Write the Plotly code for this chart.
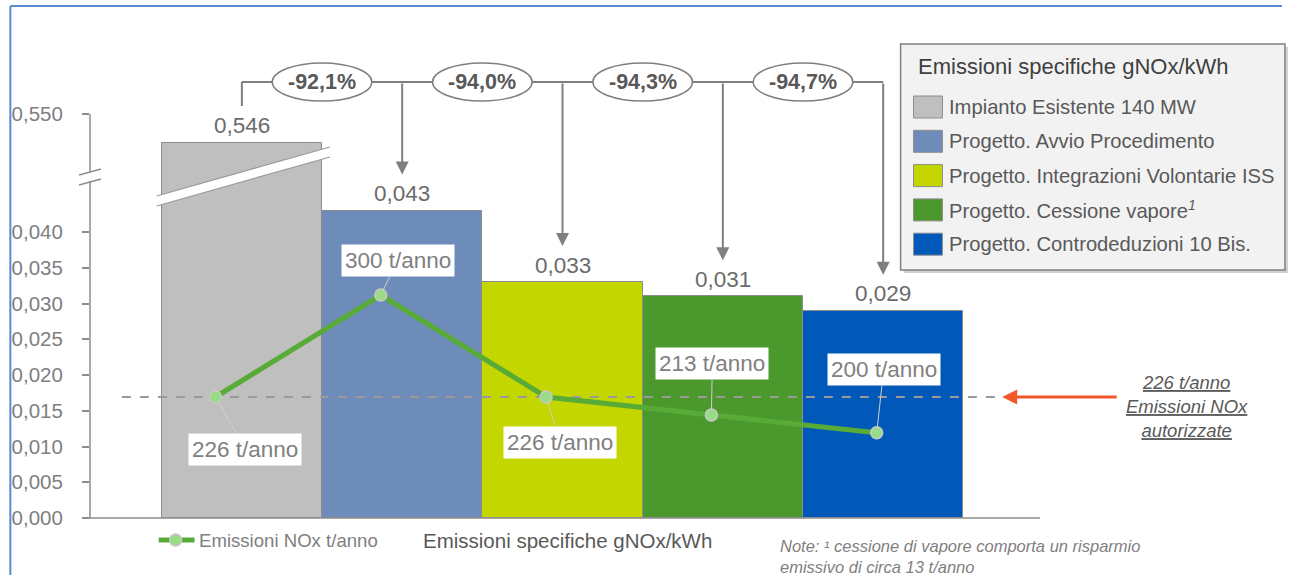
import plotly.graph_objects as go

# ---------------- data ----------------
categories = [
    "Impianto Esistente 140 MW",
    "Progetto. Avvio Procedimento",
    "Progetto. Integrazioni Volontarie ISS",
    "Progetto. Cessione vapore<sup><i>1</i></sup>",
    "Progetto. Controdeduzioni 10 Bis.",
]
specific_emissions = [0.546, 0.043, 0.033, 0.031, 0.029]   # gNOx/kWh
nox_tons = [226, 300, 226, 213, 200]                        # t/anno
authorized_nox = 226                                        # t/anno
bar_colors = ["#bfbfbf", "#6d8cba", "#c4d600", "#4b982c", "#0059b9"]
ytick_values = [0.000, 0.005, 0.010, 0.015, 0.020, 0.025, 0.030, 0.035, 0.040, 0.550]
ytick_labels = ["0,000", "0,005", "0,010", "0,015", "0,020", "0,025", "0,030", "0,035", "0,040", "0,550"]

# ---------------- geometry (pixels) ----------------
W, H = 1292, 575
PL, PR, PT, PB = 86, 1040, 20, 518
PX_PER_UNIT = 7150.0
BREAK_AT = 0.045
BREAK_SHIFT = 0.550 - (PB - 114) / PX_PER_UNIT
FONT = "Liberation Sans, Arial, sans-serif"
GREY = "#7f7f7f"
LINE_GREEN = "#58ab36"


def yd(v):
    """value -> displayed value on the broken axis"""
    return v if v <= BREAK_AT else v - BREAK_SHIFT


def fx(px):
    return (px - PL) / (PR - PL)


def fy(py):
    return (PB - py) / (PB - PT)


def ypx(d):
    return PB - d * PX_PER_UNIT


BAR0, BAR_STEP = 238.5, 161.0
PT0, PT_STEP = 212.0, 166.0
NOX_REF_PX, NOX_PX_PER_T = 397.0, 1.378

xs = list(range(len(categories)))
fmt = lambda v: f"{v:.3f}".replace(".", ",")

fig = go.Figure()

fig.add_trace(go.Bar(
    x=xs, y=[yd(v) for v in specific_emissions], width=1,
    marker=dict(color=bar_colors, line=dict(color="#8c8c8c", width=1)),
    hoverinfo="skip", showlegend=False,
))

# authorized level dashed line
x2_left = (118 - PT0) / PT_STEP
x2_right = (1000 - PT0) / PT_STEP
fig.add_trace(go.Scatter(
    x=[x2_left, x2_right], y=[authorized_nox, authorized_nox],
    xaxis="x2", yaxis="y2", mode="lines",
    line=dict(color="#9a9a9a", width=2, dash="dash"),
    hoverinfo="skip", showlegend=False,
))

fig.add_trace(go.Scatter(
    x=xs, y=nox_tons, xaxis="x2", yaxis="y2", mode="lines+markers",
    line=dict(color=LINE_GREEN, width=5),
    marker=dict(size=12, color="#98dc86", line=dict(color="#c8c8c8", width=1.5)),
    hoverinfo="skip", showlegend=False,
))

shapes = []
ann = []

# ---------------- axes lines / breaks ----------------
axc = dict(color="#8c8c8c", width=1.5)
shapes += [
    dict(type="line", xref="paper", yref="paper", x0=fx(86), x1=fx(86), y0=fy(114), y1=fy(172), line=axc),
    dict(type="line", xref="paper", yref="paper", x0=fx(86), x1=fx(86), y0=fy(181), y1=fy(518), line=axc),
    dict(type="line", xref="paper", yref="paper", x0=fx(75), x1=fx(97), y0=fy(175), y1=fy(169), line=axc),
    dict(type="line", xref="paper", yref="paper", x0=fx(75), x1=fx(97), y0=fy(185), y1=fy(179), line=axc),
    dict(type="line", xref="paper", yref="paper", x0=fx(80), x1=fx(1040), y0=fy(518), y1=fy(518), line=axc),
]

# break band on the first bar
shapes += [
    dict(type="path", xref="paper", yref="paper",
         path=f"M {fx(153)} {fy(196)} L {fx(327)} {fy(147)} L {fx(327)} {fy(157)} L {fx(153)} {fy(206)} Z",
         fillcolor="white", line=dict(width=0)),
    dict(type="line", xref="paper", yref="paper", x0=fx(153), y0=fy(196), x1=fx(327), y1=fy(147), line=dict(color="#9a9a9a", width=1.2)),
    dict(type="line", xref="paper", yref="paper", x0=fx(153), y0=fy(206), x1=fx(327), y1=fy(157), line=dict(color="#9a9a9a", width=1.2)),
]

# frame
shapes += [
    dict(type="line", xref="paper", yref="paper", x0=fx(6), x1=fx(1283), y0=fy(6), y1=fy(6), line=dict(color="#5b8bd0", width=2)),
    dict(type="line", xref="paper", yref="paper", x0=fx(6), x1=fx(6), y0=fy(6), y1=fy(575), line=dict(color="#5b8bd0", width=2)),
]

# ---------------- value labels on bars ----------------
for i, v in enumerate(specific_emissions):
    ann.append(dict(x=i, y=yd(v), xref="x", yref="y", text=fmt(v), showarrow=False,
                    yshift=17, font=dict(family=FONT, size=22.5, color="#6b6b6b")))

# ---------------- connectors with percentages ----------------
CY = 82
cc = dict(color=GREY, width=2)
shapes.append(dict(type="line", xref="x", yref="paper", x0=0, x1=len(xs) - 1, y0=fy(CY), y1=fy(CY), line=cc))
shapes.append(dict(type="line", xref="x", yref="paper", x0=0, x1=0, y0=fy(CY), y1=fy(106), line=cc))
base = specific_emissions[0]
for i in range(1, len(xs)):
    tip = ypx(yd(specific_emissions[i])) - 36
    ann.append(dict(x=i, y=fy(tip), xref="x", yref="paper", ax=0, ay=CY - tip, axref="pixel", ayref="pixel",
                    text="", showarrow=True, arrowhead=2, arrowsize=1.3, arrowwidth=2, arrowcolor=GREY))
    xc = i - 0.5
    hw = 50 / BAR_STEP
    shapes.append(dict(type="circle", xref="x", yref="paper", x0=xc - hw, x1=xc + hw,
                       y0=fy(CY + 19), y1=fy(CY - 19), fillcolor="white", line=dict(color=GREY, width=1.5)))
    pct = (specific_emissions[i] - base) / base * 100
    ann.append(dict(x=xc, y=fy(CY), xref="x", yref="paper", showarrow=False,
                    text=f"<b>{pct:.1f}%</b>".replace(".", ","),
                    font=dict(family=FONT, size=21.5, color="#595959")))

# ---------------- NOx point labels ----------------
label_offsets = [(30, 52), (17, -35), (14, 45), (1, -51), (7, -63)]
for i, (t, (ax, ay)) in enumerate(zip(nox_tons, label_offsets)):
    ann.append(dict(x=i, y=t, xref="x2", yref="y2", ax=ax, ay=ay, text=f"{t} t/anno",
                    showarrow=True, arrowhead=0, arrowwidth=1, arrowcolor="#cfcfcf", standoff=6,
                    bgcolor="white", borderpad=3,
                    font=dict(family=FONT, size=22.5, color="#808080")))

# ---------------- authorized emissions callout ----------------
ann.append(dict(x=fx(1002), y=authorized_nox, xref="paper", yref="y2", ax=116, ay=0,
                axref="pixel", ayref="pixel", text="", showarrow=True, arrowhead=2,
                arrowsize=1, arrowwidth=3, arrowcolor="#f2582a"))
ann.append(dict(x=fx(1188), y=fy(406), xref="paper", yref="paper", showarrow=False, align="center",
                text=f"<i><u>{authorized_nox} t/anno</u></i><br><i><u>Emissioni NOx</u></i><br><i><u>autorizzate</u></i>",
                font=dict(family=FONT, size=18.5, color="#595959")))

# ---------------- legend box ----------------
shapes.append(dict(type="rect", xref="paper", yref="paper", x0=fx(903), x1=fx(1289), y0=fy(47), y1=fy(273),
                   fillcolor="rgba(0,0,0,0.18)", line=dict(width=0)))
shapes.append(dict(type="rect", xref="paper", yref="paper", x0=fx(900), x1=fx(1286), y0=fy(44), y1=fy(270),
                   fillcolor="#f2f2f2", line=dict(color="#808080", width=1.5)))
ann.append(dict(x=fx(915), y=fy(66), xref="paper", yref="paper", xanchor="left", showarrow=False,
                text="Emissioni specifiche gNOx/kWh", font=dict(family=FONT, size=22, color="#404040")))
ROW0, ROW_STEP = 107, 34.3
for k, (name, col) in enumerate(zip(categories, bar_colors)):
    yc = ROW0 + k * ROW_STEP
    shapes.append(dict(type="rect", xref="paper", yref="paper", x0=fx(913), x1=fx(942), y0=fy(yc - 11), y1=fy(yc + 11),
                       fillcolor=col, line=dict(color="#8c8c8c", width=1)))
    ann.append(dict(x=fx(947), y=fy(yc), xref="paper", yref="paper", xanchor="left", showarrow=False,
                    text=name, font=dict(family=FONT, size=20.2, color="#595959")))

# ---------------- bottom legend ----------------
shapes.append(dict(type="line", xref="paper", yref="paper", x0=fx(155), x1=fx(191), y0=fy(540), y1=fy(540),
                   line=dict(color=LINE_GREEN, width=5)))
shapes.append(dict(type="circle", xref="paper", yref="paper", x0=fx(166), x1=fx(178), y0=fy(546), y1=fy(534),
                   fillcolor="#98dc86", line=dict(color="#c8c8c8", width=1.5)))
ann.append(dict(x=fx(193), y=fy(540), xref="paper", yref="paper", xanchor="left", showarrow=False,
                text="Emissioni NOx t/anno", font=dict(family=FONT, size=18.6, color="#808080")))
ann.append(dict(x=fx(418), y=fy(540), xref="paper", yref="paper", xanchor="left", showarrow=False,
                text="Emissioni specifiche gNOx/kWh", font=dict(family=FONT, size=20.5, color="#595959")))
ann.append(dict(x=fx(777), y=fy(556), xref="paper", yref="paper", xanchor="left", showarrow=False, align="left",
                text="<i>Note: ¹ cessione di vapore comporta un risparmio<br>emissivo di circa 13 t/anno</i>",
                font=dict(family=FONT, size=16.5, color="#808080")))

for a in ann:
    a.setdefault("xanchor", "center")
    a.setdefault("yanchor", "middle")

fig.update_layout(
    width=W, height=H,
    margin=dict(l=PL, r=W - PR, t=PT, b=H - PB, pad=0),
    paper_bgcolor="white", plot_bgcolor="white",
    bargap=0,
    xaxis=dict(range=[(PL - BAR0) / BAR_STEP, (PR - BAR0) / BAR_STEP], visible=False, fixedrange=True),
    yaxis=dict(range=[0, (PB - PT) / PX_PER_UNIT], tickvals=[yd(v) for v in ytick_values], ticktext=ytick_labels,
               ticks="outside", ticklen=7, tickwidth=1.5, tickcolor="#8c8c8c", showgrid=False, zeroline=False,
               showline=False, ticklabelstandoff=15, tickfont=dict(family=FONT, size=20.5, color="#7f7f7f")),
    xaxis2=dict(overlaying="x", range=[(PL - PT0) / PT_STEP, (PR - PT0) / PT_STEP], visible=False),
    yaxis2=dict(overlaying="y", visible=False,
                range=[authorized_nox - (PB - NOX_REF_PX) / NOX_PX_PER_T, authorized_nox + (NOX_REF_PX - PT) / NOX_PX_PER_T]),
    shapes=[dict(s, layer="above") for s in shapes],
    annotations=ann,
    showlegend=False,
)

fig.write_html("out.html")
